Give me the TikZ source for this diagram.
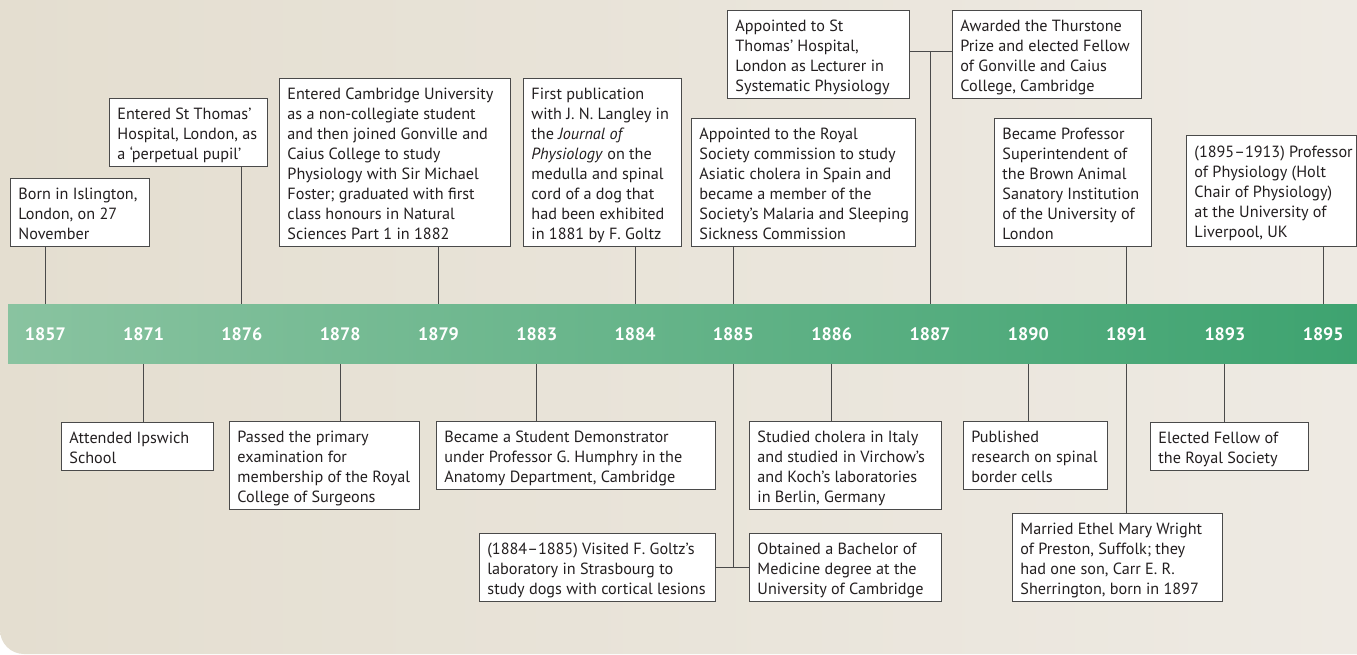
\documentclass[tikz,border=0pt]{standalone}
\usepackage{fontspec}
\setmainfont{PT Sans}
\definecolor{bgL}{HTML}{E4DED0}
\definecolor{bgR}{HTML}{EEEAE3}
\definecolor{barL}{HTML}{89C3A0}
\definecolor{barR}{HTML}{3EA370}
\definecolor{ink}{HTML}{231F20}
\definecolor{edge}{HTML}{4A4A4A}
\newcommand{\evfont}{\fontsize{16.2}{20}\selectfont}
\newcommand{\yrfont}{\fontsize{18}{20}\selectfont\bfseries}
\newcommand{\evt}[2]{\makebox[#1][l]{\raisebox{-3pt}[\height][\depth]{\begin{tabular}{@{}l@{}}#2\end{tabular}}}}
\tikzset{
  evbox/.style={draw=edge, line width=0.9pt, fill=white, anchor=north west,
    inner xsep=8pt, inner ysep=4pt, font=\evfont, text=ink},
  yearlbl/.style={font=\yrfont, text=white, inner sep=0pt},
  link/.style={draw=edge, line width=0.9pt}
}
\begin{document}
\begin{tikzpicture}[x=1pt, y=-1pt]
\useasboundingbox (0,0) rectangle (1357,654);
\fill[white] (0,0) rectangle (1357,654);
\begin{scope}
  \clip[rounded corners=24pt] (0,-100) rectangle (1457,654);
  \shade[left color=bgL, right color=bgR] (0,0) rectangle (1357,654);
\end{scope}

% timeline bar
\node[left color=barL, right color=barR, minimum width=1349pt, minimum height=59.5pt, inner sep=0pt, anchor=north west] (bar) at (8,304) {};

% year labels
\node[yearlbl] (y1857) at (45.3,334) {1857};
\node[yearlbl] (y1871) at (143.6,334) {1871};
\node[yearlbl] (y1876) at (241.9,334) {1876};
\node[yearlbl] (y1878) at (340.2,334) {1878};
\node[yearlbl] (y1879) at (438.5,334) {1879};
\node[yearlbl] (y1883) at (536.8,334) {1883};
\node[yearlbl] (y1884) at (635.1,334) {1884};
\node[yearlbl] (y1885) at (733.4,334) {1885};
\node[yearlbl] (y1886) at (831.7,334) {1886};
\node[yearlbl] (y1887) at (930,334) {1887};
\node[yearlbl] (y1890) at (1028.3,334) {1890};
\node[yearlbl] (y1891) at (1126.6,334) {1891};
\node[yearlbl] (y1893) at (1224.9,334) {1893};
\node[yearlbl] (y1895) at (1323.2,334) {1895};

% top boxes
\node[evbox] (T1) at (10,178) {\evt{123pt}{Born in Islington,\\London, on 27\\November}};
\node[evbox] (T2) at (109,98) {\evt{142pt}{Entered St Thomas’\\Hospital, London, as\\a ‘perpetual pupil’}};
\node[evbox] (T3) at (279,78) {\evt{215pt}{Entered Cambridge University\\as a non-collegiate student\\and then joined Gonville and\\Caius College to study\\Physiology with Sir Michael\\Foster; graduated with first\\class honours in Natural\\Sciences Part 1 in 1882}};
\node[evbox] (T4) at (523,78) {\evt{142pt}{First publication\\with J. N. Langley in\\the \textit{Journal of}\\\textit{Physiology} on the\\medulla and spinal\\cord of a dog that\\had been exhibited\\in 1881 by F. Goltz}};
\node[evbox] (T5) at (691,118) {\evt{208pt}{Appointed to the Royal\\Society commission to study\\Asiatic cholera in Spain and\\became a member of the\\Society’s Malaria and Sleeping\\Sickness Commission}};
\node[evbox] (T6) at (727,10) {\evt{166pt}{Appointed to St\\Thomas’ Hospital,\\London as Lecturer in\\Systematic Physiology}};
\node[evbox] (T7) at (952,10) {\evt{173pt}{Awarded the Thurstone\\Prize and elected Fellow\\of Gonville and Caius\\College, Cambridge}};
\node[evbox] (T8) at (994,118) {\evt{141pt}{Became Professor\\Superintendent of\\the Brown Animal\\Sanatory Institution\\of the University of\\London}};
\node[evbox, minimum height=111pt] (T9) at (1186,135) {\evt{154pt}{(1895–1913) Professor\\of Physiology (Holt\\Chair of Physiology)\\at the University of\\Liverpool, UK}};

% bottom boxes
\node[evbox] (B1) at (61,422) {\evt{136pt}{Attended Ipswich\\School}};
\node[evbox] (B2) at (229,421) {\evt{174pt}{Passed the primary\\examination for\\membership of the Royal\\College of Surgeons}};
\node[evbox] (B3) at (436,421) {\evt{263pt}{Became a Student Demonstrator\\under Professor G. Humphry in the\\Anatomy Department, Cambridge}};
\node[evbox] (B4) at (479,533) {\evt{220pt}{(1884–1885) Visited F. Goltz’s\\laboratory in Strasbourg to\\study dogs with cortical lesions}};
\node[evbox] (B5) at (749,421) {\evt{176pt}{Studied cholera in Italy\\and studied in Virchow’s\\and Koch’s laboratories\\in Berlin, Germany}};
\node[evbox] (B6) at (749,533) {\evt{176pt}{Obtained a Bachelor of\\Medicine degree at the\\University of Cambridge}};
\node[evbox] (B7) at (963,421) {\evt{128pt}{Published\\research on spinal\\border cells}};
\node[evbox] (B8) at (1012,513) {\evt{194pt}{Married Ethel Mary Wright\\of Preston, Suffolk; they\\had one son, Carr E. R.\\Sherrington, born in 1897}};
\node[evbox] (B9) at (1150,422) {\evt{142pt}{Elected Fellow of\\the Royal Society}};

% junction points
\coordinate (j1887) at (930,51);
\coordinate (j1885) at (733.4,567);

% top connectors
\draw[link] (T1.south -| y1857) -- (y1857 |- bar.north);
\draw[link] (T2.south -| y1876) -- (y1876 |- bar.north);
\draw[link] (T3.south -| y1879) -- (y1879 |- bar.north);
\draw[link] (T4.south -| y1884) -- (y1884 |- bar.north);
\draw[link] (T5.south -| y1885) -- (y1885 |- bar.north);
\draw[link] (T6.east |- j1887) -- (T7.west |- j1887);
\draw[link] (j1887) -- (j1887 |- bar.north);
\draw[link] (T8.south -| y1891) -- (y1891 |- bar.north);
\draw[link] (T9.south -| y1895) -- (y1895 |- bar.north);

% bottom connectors
\draw[link] (y1871 |- bar.south) -- (B1.north -| y1871);
\draw[link] (y1878 |- bar.south) -- (B2.north -| y1878);
\draw[link] (y1883 |- bar.south) -- (B3.north -| y1883);
\draw[link] (y1885 |- bar.south) -- (j1885);
\draw[link] (B4.east |- j1885) -- (B6.west |- j1885);
\draw[link] (y1886 |- bar.south) -- (B5.north -| y1886);
\draw[link] (y1890 |- bar.south) -- (B7.north -| y1890);
\draw[link] (y1891 |- bar.south) -- (B8.north -| y1891);
\draw[link] (y1893 |- bar.south) -- (B9.north -| y1893);
\end{tikzpicture}
\end{document}
